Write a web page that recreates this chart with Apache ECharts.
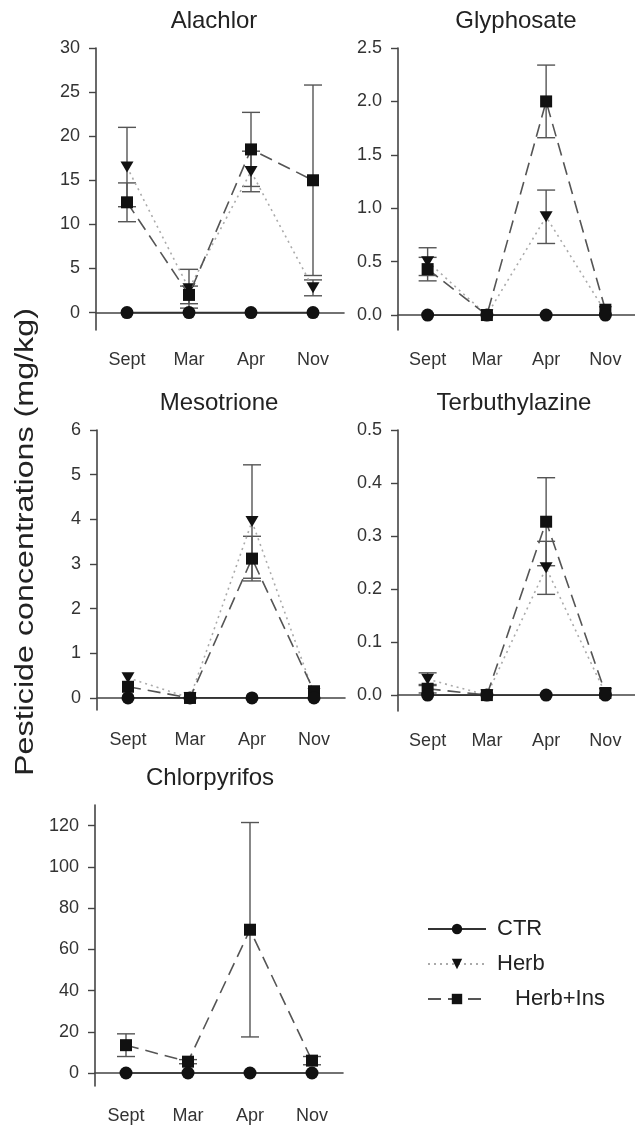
<!DOCTYPE html>
<html>
<head>
<meta charset="utf-8">
<script src="https://cdn.jsdelivr.net/npm/echarts@6/dist/echarts.min.js"></script>
<style>
html, body { margin: 0; padding: 0; background: #fff; }
#chart { width: 635px; height: 1127px; }
</style>
</head>
<body>
<div id="chart"></div>
<script>
var months = ['Sept', 'Mar', 'Apr', 'Nov'];
var groups = ['CTR', 'Herb', 'Herb+Ins'];

// Alachlor
var alachlorCtr = [0, 0, 0, 0];
var alachlorHerb = [16.5, 2.7, 16.0, 2.8];
var alachlorHerbErr = [4.5, 2.2, 2.3, 0.9];
var alachlorIns = [12.5, 2.0, 18.5, 15.0];
var alachlorInsErr = [2.2, 1.0, 4.2, 10.8];
var alachlorTicks = [0, 5, 10, 15, 20, 25, 30];

// Glyphosate
var glyphosateCtr = [0, 0, 0, 0];
var glyphosateHerb = [0.50, 0.0, 0.92, 0.03];
var glyphosateHerbErr = [0.13, 0, 0.25, 0];
var glyphosateIns = [0.43, 0.0, 2.0, 0.05];
var glyphosateInsErr = [0.11, 0, 0.34, 0];
var glyphosateTicks = [0, 0.5, 1.0, 1.5, 2.0, 2.5];

// Mesotrione
var mesotrioneCtr = [0, 0, 0, 0];
var mesotrioneHerb = [0.45, 0.0, 3.95, 0.10];
var mesotrioneHerbErr = [0, 0, 1.27, 0];
var mesotrioneIns = [0.25, 0.0, 3.12, 0.15];
var mesotrioneInsErr = [0, 0, 0.5, 0];
var mesotrioneTicks = [0, 1, 2, 3, 4, 5, 6];

// Terbuthylazine
var terbuCtr = [0, 0, 0, 0];
var terbuHerb = [0.030, 0.0, 0.24, 0.003];
var terbuHerbErr = [0.012, 0, 0.05, 0];
var terbuIns = [0.012, 0.0, 0.327, 0.004];
var terbuInsErr = [0.008, 0, 0.083, 0];
var terbuTicks = [0, 0.1, 0.2, 0.3, 0.4, 0.5];

// Chlorpyrifos (no Herb values)
var chlorCtr = [0, 0, 0, 0];
var chlorHerb = [null, null, null, null];
var chlorHerbErr = [0, 0, 0, 0];
var chlorIns = [13.5, 5.5, 69.5, 6.0];
var chlorInsErr = [5.5, 1.0, 52, 2.0];
var chlorTicks = [0, 20, 40, 60, 80, 100, 120];

var panels = [
  {title: 'Alachlor', ctr: alachlorCtr, herb: alachlorHerb, herbErr: alachlorHerbErr, ins: alachlorIns, insErr: alachlorInsErr,
   ticks: alachlorTicks, dec: 0, min: -1.98, max: 30, box: [96, 48, 248, 282], tx: 214, ty: 9},
  {title: 'Glyphosate', ctr: glyphosateCtr, herb: glyphosateHerb, herbErr: glyphosateHerbErr, ins: glyphosateIns, insErr: glyphosateInsErr,
   ticks: glyphosateTicks, dec: 1, min: -0.14, max: 2.5, box: [398, 48, 245, 282], tx: 516, ty: 9},
  {title: 'Mesotrione', ctr: mesotrioneCtr, herb: mesotrioneHerb, herbErr: mesotrioneHerbErr, ins: mesotrioneIns, insErr: mesotrioneInsErr,
   ticks: mesotrioneTicks, dec: 0, min: -0.27, max: 6, box: [97, 430, 248, 280], tx: 219, ty: 391},
  {title: 'Terbuthylazine', ctr: terbuCtr, herb: terbuHerb, herbErr: terbuHerbErr, ins: terbuIns, insErr: terbuInsErr,
   ticks: terbuTicks, dec: 1, min: -0.03, max: 0.5, box: [398, 430, 245, 281], tx: 514, ty: 391},
  {title: 'Chlorpyrifos', ctr: chlorCtr, herb: chlorHerb, herbErr: chlorHerbErr, ins: chlorIns, insErr: chlorInsErr,
   ticks: chlorTicks, dec: 0, min: -6.3, max: 130, box: [95, 805, 248, 281], tx: 210, ty: 766}
];

var font = 'Liberation Sans, Arial, sans-serif';
var axisColor = '#444';
var textColor = '#333';

function errData(vals, errs) {
  var out = [];
  vals.forEach(function (v, i) {
    if (v !== null && errs[i] > 0) out.push([i, v - errs[i], v + errs[i]]);
  });
  return out;
}

function renderErr(params, api) {
  var x = api.value(0);
  var lo = api.coord([x, api.value(1)]);
  var hi = api.coord([x, api.value(2)]);
  var w = 9;
  var st = {stroke: '#555', lineWidth: 1.4};
  return {type: 'group', children: [
    {type: 'line', shape: {x1: lo[0], y1: lo[1], x2: hi[0], y2: hi[1]}, style: st},
    {type: 'line', shape: {x1: lo[0] - w, y1: lo[1], x2: lo[0] + w, y2: lo[1]}, style: st},
    {type: 'line', shape: {x1: hi[0] - w, y1: hi[1], x2: hi[0] + w, y2: hi[1]}, style: st}
  ]};
}

var option = {
  animation: false,
  backgroundColor: '#fff',
  title: [],
  grid: [],
  xAxis: [],
  yAxis: [],
  series: [],
  legend: {
    orient: 'vertical',
    left: 422,
    top: 913,
    itemWidth: 58,
    itemHeight: 13,
    itemGap: 13,
    textStyle: {fontFamily: font, fontSize: 22, color: '#222', padding: [0, 0, 0, 6]},
    data: [
      {name: 'CTR'},
      {name: 'Herb'},
      {name: 'Herb+Ins', textStyle: {padding: [0, 0, 0, 24]}}
    ]
  },
  graphic: [{
    type: 'text',
    x: 26, y: 542,
    rotation: Math.PI / 2,
    scaleX: 1.29,
    style: {text: 'Pesticide concentrations (mg/kg)', font: '25px ' + font, fill: '#222',
            textAlign: 'center', textVerticalAlign: 'middle'}
  }]
};

panels.forEach(function (p, k) {
  option.title.push({
    text: p.title, left: p.tx, top: p.ty, textAlign: 'center', padding: 0,
    textStyle: {fontFamily: font, fontSize: 24, fontWeight: 'normal', color: '#222'}
  });
  option.grid.push({left: p.box[0], top: p.box[1], width: p.box[2], height: p.box[3]});
  option.xAxis.push({
    type: 'category', gridIndex: k, data: months, boundaryGap: true,
    axisLine: {lineStyle: {color: axisColor, width: 1.6}},
    axisTick: {alignWithLabel: true, length: 8, lineStyle: {color: axisColor, width: 1.4}},
    axisLabel: {fontFamily: font, fontSize: 18, color: textColor, margin: 21}
  });
  option.yAxis.push({
    type: 'value', gridIndex: k, min: p.min, max: p.max,
    splitLine: {show: false},
    axisLine: {show: true, lineStyle: {color: axisColor, width: 1.6}},
    axisTick: {show: true, length: 7, customValues: p.ticks, lineStyle: {color: axisColor, width: 1.4}},
    axisLabel: {fontFamily: font, fontSize: 18, color: textColor, margin: 16, customValues: p.ticks,
                formatter: function (v) { return v.toFixed(p.dec); }}
  });

  option.series.push({
    type: 'custom', name: 'err', xAxisIndex: k, yAxisIndex: k, renderItem: renderErr,
    data: errData(p.herb, p.herbErr), encode: {x: 0, y: [1, 2]}, z: 1
  });
  option.series.push({
    type: 'custom', name: 'err', xAxisIndex: k, yAxisIndex: k, renderItem: renderErr,
    data: errData(p.ins, p.insErr), encode: {x: 0, y: [1, 2]}, z: 1
  });
  option.series.push({
    type: 'line', name: groups[1], xAxisIndex: k, yAxisIndex: k, data: p.herb,
    symbol: 'triangle', symbolRotate: 180, symbolSize: [13, 11],
    itemStyle: {color: '#111'}, lineStyle: {color: '#aaa', width: 1.6, type: [2, 4]}, z: 2
  });
  option.series.push({
    type: 'line', name: groups[2], xAxisIndex: k, yAxisIndex: k, data: p.ins,
    symbol: 'rect', symbolSize: 12,
    itemStyle: {color: '#111'}, lineStyle: {color: '#555', width: 1.6, type: [13, 7]}, z: 3
  });
  option.series.push({
    type: 'line', name: groups[0], xAxisIndex: k, yAxisIndex: k, data: p.ctr,
    symbol: 'circle', symbolSize: 13,
    itemStyle: {color: '#111'}, lineStyle: {color: '#333', width: 1.7}, z: 4
  });
});

var mychart = echarts.init(document.getElementById('chart'));
mychart.setOption(option);
</script>
</body>
</html>
